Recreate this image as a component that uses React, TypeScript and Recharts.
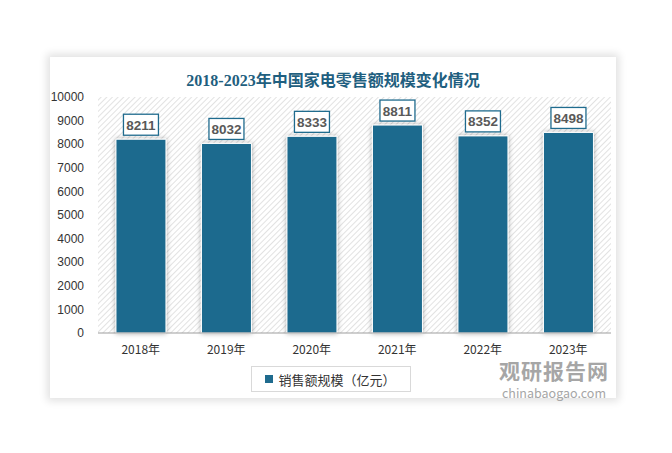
import { BarChart, Bar, XAxis, YAxis, CartesianGrid, LabelList, Legend } from 'recharts'

const years = ['2018年', '2019年', '2020年', '2021年', '2022年', '2023年']
const sales = [8211, 8032, 8333, 8811, 8352, 8498]
const yTicks = [0, 1000, 2000, 3000, 4000, 5000, 6000, 7000, 8000, 9000, 10000]

const BLUE = '#1f6b8e'

const data = years.map((year, i) => ({ year, sales: sales[i] }))

const ValueBox = (props: any) => {
  const { x, y, width, value } = props
  const cx = x + width / 2
  const w = 35
  const h = 21
  const top = y - 4 - h
  return (
    <g>
      <rect x={cx - w / 2} y={top} width={w} height={h} fill="#fff" stroke={BLUE} strokeWidth={1.3} />
      <text
        x={cx}
        y={top + h / 2 + 5}
        textAnchor="middle"
        fontSize={13.5}
        fontWeight="bold"
        fill="#595959"
        fontFamily="'Liberation Sans', Arial, sans-serif"
      >
        {value}
      </text>
    </g>
  )
}

const LegendBox = () => (
  <div style={{ display: 'flex', justifyContent: 'center', paddingTop: 3 }}>
    <div
      style={{
        border: '1px solid #d9d9d9',
        width: 158,
        height: 24,
        display: 'flex',
        alignItems: 'center',
        justifyContent: 'center',
        fontSize: 13,
        color: '#333',
        fontFamily: "'Noto Sans CJK SC', sans-serif",
      }}
    >
      <span style={{ width: 8, height: 8, background: BLUE, marginRight: 5, display: 'inline-block' }} />
      销售额规模（亿元）
    </div>
  </div>
)

export default function App() {
  return (
    <div style={{ position: 'relative', width: 656, height: 437, background: '#fff' }}>
      <div
        style={{
          position: 'absolute',
          left: 42,
          top: 49,
          width: 566,
          height: 341,
          background: '#fff',
          boxShadow: '0 0 8px 3px rgba(0,0,0,0.12)',
        }}
      >
        <div
          style={{
            position: 'absolute',
            left: 0,
            top: 10,
            width: 566,
            textAlign: 'center',
            fontSize: 16,
            fontWeight: 'bold',
            color: '#1f5f80',
            fontFamily: "'Liberation Serif', 'Noto Sans CJK SC', serif",
          }}
        >
          2018-2023年中国家电零售额规模变化情况
        </div>
        <BarChart
          width={566}
          height={341}
          data={data}
          margin={{ top: 40, right: 5, bottom: 0, left: 0 }}
          barCategoryGap="21%"
        >
          <defs>
            <pattern id="hatch" width="4" height="4" patternUnits="userSpaceOnUse" patternTransform="rotate(45)">
              <rect width="4" height="4" fill="#ffffff" />
              <line x1="0" y1="0" x2="0" y2="4" stroke="#d6d6d6" strokeWidth="1.4" />
            </pattern>
            <filter id="barShadow" x="-30%" y="-10%" width="160%" height="130%">
              <feDropShadow dx="0" dy="0" stdDeviation="2.5" floodColor="#000" floodOpacity="0.35" />
            </filter>
          </defs>
          <CartesianGrid fill="url(#hatch)" horizontal={false} vertical={false} />
          <XAxis
            dataKey="year"
            tickLine={false}
            axisLine={{ stroke: '#9e9e9e' }}
            tick={{ fontSize: 12, fill: '#333', fontFamily: "'Noto Sans CJK SC', sans-serif" }}
            tickMargin={6}
            height={30}
          />
          <YAxis
            domain={[0, 10000]}
            ticks={yTicks}
            interval={0}
            tickLine={false}
            axisLine={false}
            width={48}
            tick={{ fontSize: 12, fill: '#333', fontFamily: "'Liberation Sans', Arial, sans-serif" }}
            tickMargin={8}
          />
          <Legend verticalAlign="bottom" height={35} content={<LegendBox />} />
          <Bar
            dataKey="sales"
            fill={BLUE}
            stroke="#fff"
            strokeWidth={1}
            isAnimationActive={false}
            style={{ filter: 'url(#barShadow)' }}
          >
            <LabelList dataKey="sales" content={<ValueBox />} />
          </Bar>
        </BarChart>
        <div
          style={{
            position: 'absolute',
            left: 449,
            top: 302,
            textAlign: 'center',
            color: '#a6a6a6',
            fontFamily: "'Noto Sans CJK SC', sans-serif",
            pointerEvents: 'none',
          }}
        >
          <div style={{ fontSize: 21, fontWeight: 'bold', lineHeight: '22px', letterSpacing: 1 }}>观研报告网</div>
          <div style={{ fontSize: 12.5, lineHeight: '14px', marginTop: 5 }}>chinabaogao.com</div>
        </div>
      </div>
    </div>
  )
}
